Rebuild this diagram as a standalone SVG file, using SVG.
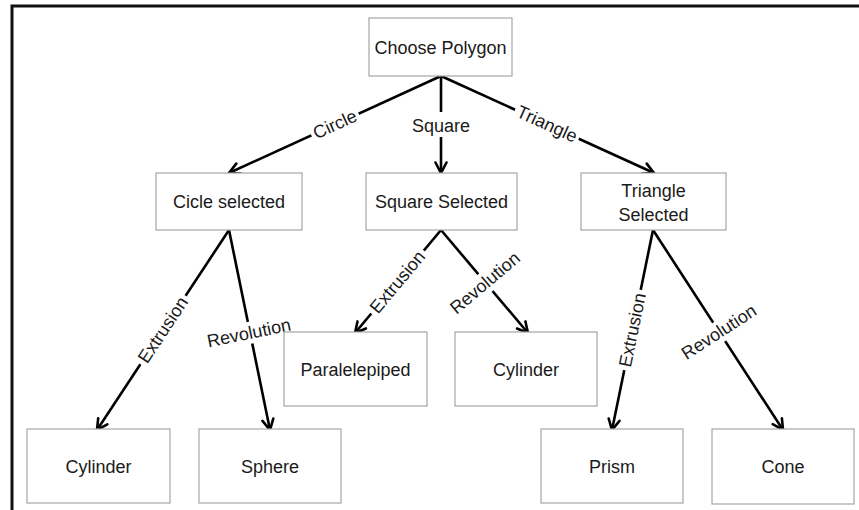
<svg xmlns="http://www.w3.org/2000/svg" width="859" height="510" viewBox="0 0 859 510">
<style>
.box{fill:#fff;stroke:#a6a6a6;stroke-width:1.2}
.nt{font-family:"Liberation Sans",Arial,sans-serif;font-size:18px;fill:#1a1a1a;text-anchor:middle}
.lt{font-family:"Liberation Sans",Arial,sans-serif;font-size:18px;fill:#1a1a1a;text-anchor:middle}
.edge{stroke:#000;stroke-width:2.6;fill:none;marker-end:url(#arr)}
.bg{fill:#fff}
</style>
<defs>
<marker id="arr" viewBox="0 0 14 14" refX="12.5" refY="7" markerWidth="14" markerHeight="14" markerUnits="userSpaceOnUse" orient="auto">
<path d="M2,1.5 L12.5,7 L2,12.5" fill="none" stroke="#000" stroke-width="2.6" stroke-linecap="round" stroke-linejoin="miter"/>
</marker>
</defs>
<rect width="859" height="510" fill="#fff"/>
<path d="M12,510 L12,6 L859,6" fill="none" stroke="#111" stroke-width="3"/>

<g id="connectors">
<line class="edge" x1="441" y1="76" x2="229" y2="173"/>
<line class="edge" x1="441" y1="76" x2="441" y2="173"/>
<line class="edge" x1="441" y1="76" x2="654" y2="173"/>
<line class="edge" x1="229" y1="230" x2="97" y2="430"/>
<line class="edge" x1="229" y1="230" x2="270" y2="430"/>
<line class="edge" x1="441" y1="230" x2="355" y2="333"/>
<line class="edge" x1="441" y1="230" x2="528" y2="333"/>
<line class="edge" x1="653" y1="230" x2="612" y2="430"/>
<line class="edge" x1="653" y1="230" x2="783" y2="430"/>

<g transform="translate(335,124.5) rotate(-24.6)"><rect class="bg" x="-26" y="-12" width="52" height="24"/><text class="lt" x="0" y="6">Circle</text></g>
<g transform="translate(441,125)"><rect class="bg" x="-30" y="-13" width="60" height="25"/><text class="lt" x="0" y="6.5">Square</text></g>
<g transform="translate(547,124) rotate(24.5)"><rect class="bg" x="-35" y="-12" width="70" height="24"/><text class="lt" x="0" y="6">Triangle</text></g>
<g transform="translate(163,330) rotate(-56.6)"><rect class="bg" x="-41" y="-11" width="82" height="22"/><text class="lt" x="0" y="6">Extrusion</text></g>
<g transform="translate(249,333) rotate(-11.6)"><rect class="bg" x="-45" y="-11" width="90" height="22"/><text class="lt" x="0" y="6">Revolution</text></g>
<g transform="translate(397.5,282) rotate(-50.1)"><rect class="bg" x="-41" y="-11" width="82" height="22"/><text class="lt" x="0" y="6">Extrusion</text></g>
<g transform="translate(485,283) rotate(-40.2)"><rect class="bg" x="-45" y="-11" width="90" height="22"/><text class="lt" x="0" y="6">Revolution</text></g>
<g transform="translate(632.5,330) rotate(-78.4)"><rect class="bg" x="-41" y="-11" width="82" height="22"/><text class="lt" x="0" y="6">Extrusion</text></g>
<g transform="translate(719,332) rotate(-33)"><rect class="bg" x="-45" y="-11" width="90" height="22"/><text class="lt" x="0" y="6">Revolution</text></g>
</g>

<g id="n-choose"><rect class="box" x="369" y="18" width="143" height="58"/><text class="nt" x="440.5" y="53.5">Choose Polygon</text></g>
<g id="n-circle"><rect class="box" x="156" y="173" width="146" height="57"/><text class="nt" x="229" y="208">Cicle selected</text></g>
<g id="n-square"><rect class="box" x="366" y="173" width="151" height="57"/><text class="nt" x="441.5" y="208">Square Selected</text></g>
<g id="n-triangle"><rect class="box" x="581" y="173" width="145" height="57"/><text class="nt" x="653.5" y="197">Triangle</text><text class="nt" x="653.5" y="221">Selected</text></g>
<g id="n-cyl1"><rect class="box" x="27" y="429" width="143" height="74"/><text class="nt" x="98.5" y="472.5">Cylinder</text></g>
<g id="n-sphere"><rect class="box" x="199" y="429" width="142" height="74"/><text class="nt" x="270" y="472.5">Sphere</text></g>
<g id="n-para"><rect class="box" x="284" y="332" width="143" height="74"/><text class="nt" x="355.5" y="375.5">Paralelepiped</text></g>
<g id="n-cyl2"><rect class="box" x="455" y="332" width="142" height="74"/><text class="nt" x="526" y="375.5">Cylinder</text></g>
<g id="n-prism"><rect class="box" x="541" y="429" width="142" height="74"/><text class="nt" x="612" y="472.5">Prism</text></g>
<g id="n-cone"><rect class="box" x="712" y="429" width="142" height="75"/><text class="nt" x="783" y="472.5">Cone</text></g>
</svg>
